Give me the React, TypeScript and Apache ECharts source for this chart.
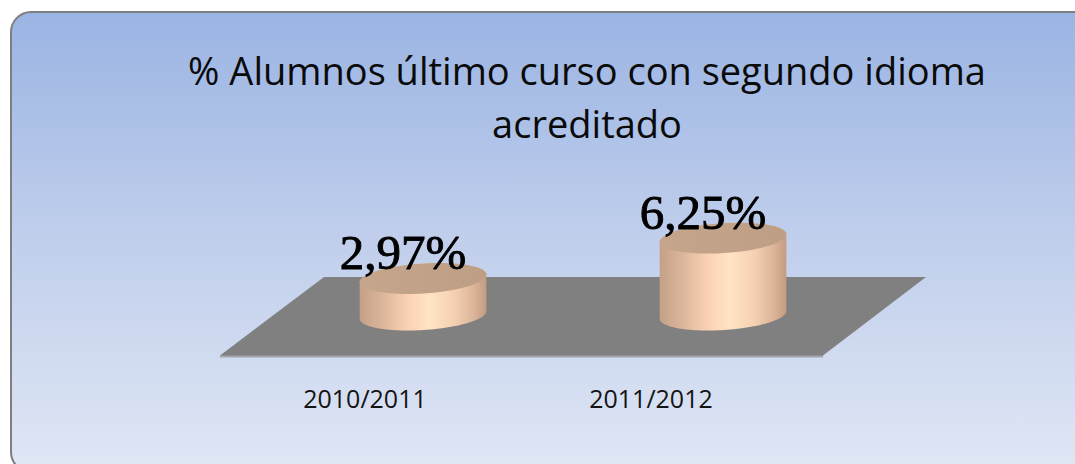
import React, { useEffect, useRef } from 'react';
import * as echarts from 'echarts';

const titleLines = ['% Alumnos último curso con segundo idioma', 'acreditado'];
const categories = ['2010/2011', '2011/2012'];
const values = [2.97, 6.25];

const fmt = (v: number) => v.toFixed(2).replace('.', ',') + '%';

export default function App() {
  const ref = useRef<HTMLDivElement>(null);

  useEffect(() => {
    document.body.style.margin = '0';
    document.documentElement.style.overflow = 'hidden';
    const chart = echarts.init(ref.current!, null, { renderer: 'svg' });

    const sideGradient = () =>
      new echarts.graphic.LinearGradient(0, 0, 1, 0, [
        { offset: 0, color: '#c4a088' },
        { offset: 0.18, color: '#dbb69b' },
        { offset: 0.38, color: '#fbd1b4' },
        { offset: 0.55, color: '#ffe4c5' },
        { offset: 0.75, color: '#f4d0b1' },
        { offset: 0.9, color: '#dcb499' },
        { offset: 1, color: '#c29c83' },
      ]);

    const renderItem = (params: any, api: any) => {
      const idx = api.value(0);
      const val = api.value(1);
      const top = api.coord([idx, val]);
      const base = api.coord([idx, 0]);
      const band = api.size([1, 0])[0];
      const rx = (band * 0.423) / 2;
      const ry = 15;
      const phi = 0.063;
      const cx = top[0];
      const pt = (cy: number, t: number) => {
        const dx = rx * Math.cos(t);
        const dy = ry * Math.sin(t);
        return [cx + dx * Math.cos(phi) + dy * Math.sin(phi), cy - dx * Math.sin(phi) + dy * Math.cos(phi)];
      };
      const N = 60;
      const side: number[][] = [];
      for (let i = 0; i <= N; i++) side.push(pt(base[1], Math.PI - (Math.PI * i) / N));
      for (let i = 0; i <= N; i++) side.push(pt(top[1], -(Math.PI * i) / N));
      const cap: number[][] = [];
      for (let i = 0; i < 2 * N; i++) cap.push(pt(top[1], (Math.PI * i) / N));
      return {
        type: 'group',
        children: [
          { type: 'polygon', shape: { points: side }, style: { fill: sideGradient() } },
          {
            type: 'polygon',
            shape: { points: cap },
            style: {
              fill: new echarts.graphic.LinearGradient(0, 0, 1, 0, [
                { offset: 0, color: '#c6a58d' },
                { offset: 1, color: '#bf9e86' },
              ]),
            },
          },
          {
            type: 'text',
            x: cx - 20,
            y: top[1] - 26,
            style: {
              text: fmt(val),
              font: '49px "Liberation Serif"',
              fill: '#000',
              stroke: '#000',
              lineWidth: 0.9,
              align: 'center',
              verticalAlign: 'middle',
            },
          },
        ],
      };
    };

    chart.setOption({
      animation: false,
      title: {
        text: titleLines.join('\n'),
        left: 587,
        top: 43,
        padding: 0,
        textAlign: 'center',
        textStyle: {
          fontFamily: 'Open Sans',
          fontSize: 38,
          fontWeight: 'normal',
          color: '#0a0a0a',
          lineHeight: 53,
        },
      },
      graphic: {
        elements: [
          {
            type: 'rect',
            z: -10,
            shape: { x: 11, y: 12, width: 1200, height: 460, r: 20 },
            style: {
              fill: new echarts.graphic.LinearGradient(0, 0, 0, 1, [
                { offset: 0, color: '#9ab4e3' },
                { offset: 0.5, color: '#c1cfec' },
                { offset: 1, color: '#e0e7f5' },
              ]),
              stroke: '#7f7f7f',
              lineWidth: 2,
            },
          },
          {
            type: 'polygon',
            z: -9,
            shape: { points: [[220, 355], [823, 355], [823, 357.5], [220, 357.5]] },
            style: { fill: '#a3a4ad' },
          },
          {
            type: 'polygon',
            z: -9,
            shape: { points: [[324, 277], [926, 277], [823, 355.5], [220, 355.5]] },
            style: { fill: '#808080' },
          },
        ],
      },
      grid: [
        { left: 273, width: 600, top: 192, height: 123 },
        { left: 222, width: 572, top: 375, height: 1 },
      ],
      xAxis: [
        { type: 'category', gridIndex: 0, data: categories, show: false },
        {
          type: 'category',
          gridIndex: 1,
          data: categories,
          axisLine: { show: false },
          axisTick: { show: false },
          axisLabel: {
            margin: 9,
            fontFamily: 'Open Sans',
            fontSize: 25,
            lineHeight: 25,
            color: '#141414',
          },
        },
      ],
      yAxis: [
        { type: 'value', gridIndex: 0, min: 0, max: 10, show: false },
        { type: 'value', gridIndex: 1, show: false },
      ],
      series: [
        {
          type: 'custom',
          xAxisIndex: 0,
          yAxisIndex: 0,
          z: 5,
          renderItem,
          data: values.map((v, i) => [i, v]),
        },
      ],
    });

    return () => chart.dispose();
  }, []);

  return <div ref={ref} style={{ width: 1075, height: 464 }} />;
}
